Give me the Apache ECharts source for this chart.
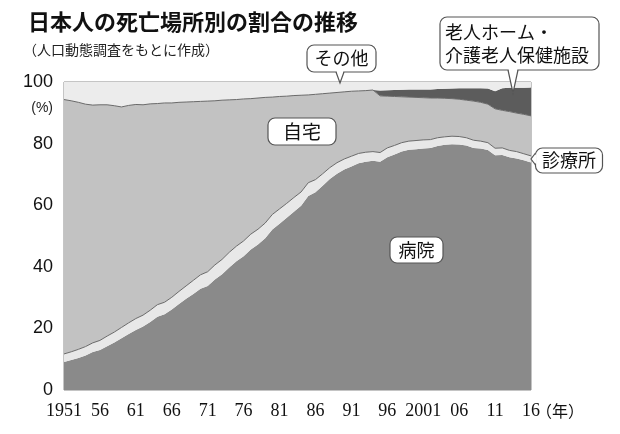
<!DOCTYPE html>
<html>
<head>
<meta charset="utf-8">
<script src="https://cdn.jsdelivr.net/npm/echarts@6/dist/echarts.min.js"></script>
<style>
  html, body { margin: 0; padding: 0; background: #fff; }
  #chart { width: 620px; height: 434px; }
</style>
</head>
<body>
<div id="chart"></div>
<script>
// 年（カテゴリ）
const years = [
  "1951", "1952", "1953", "1954", "1955", "1956", "1957", "1958", "1959", "1960",
  "1961", "1962", "1963", "1964", "1965", "1966", "1967", "1968", "1969", "1970",
  "1971", "1972", "1973", "1974", "1975", "1976", "1977", "1978", "1979", "1980",
  "1981", "1982", "1983", "1984", "1985", "1986", "1987", "1988", "1989", "1990",
  "1991", "1992", "1993", "1994", "1995", "1996", "1997", "1998", "1999", "2000",
  "2001", "2002", "2003", "2004", "2005", "2006", "2007", "2008", "2009", "2010",
  "2011", "2012", "2013", "2014", "2015", "2016",
];
// x軸の目盛ラベル（5年ごと）
const yearLabels = ["1951", "56", "61", "66", "71", "76", "81", "86", "91", "96", "2001", "06", "11", "16"];
const yTicks = [0, 20, 40, 60, 80, 100];

// 死亡場所別の割合（%）
const hospital = [
  9.1, 9.7, 10.4, 11.2, 12.3, 13.0, 14.2, 15.4, 16.8, 18.2,
  19.5, 20.6, 22.1, 23.8, 24.6, 26.1, 27.9, 29.6, 31.2, 32.9,
  33.8, 35.9, 37.6, 39.8, 41.8, 43.4, 45.6, 47.2, 49.3, 52.1,
  54.0, 55.9, 57.9, 59.8, 63.0, 64.2, 66.3, 68.5, 70.2, 71.6,
  72.6, 73.6, 74.1, 74.4, 74.1, 75.6, 76.5, 77.4, 78.0, 78.2,
  78.4, 78.6, 79.2, 79.6, 79.8, 79.7, 79.4, 78.6, 78.4, 77.9,
  76.2, 76.3, 75.6, 75.2, 74.6, 73.9,
];
const clinic = [
  2.6, 2.7, 2.8, 2.9, 3.0, 3.1, 3.3, 3.4, 3.5, 3.6,
  3.7, 3.7, 3.8, 3.9, 3.9, 4.0, 4.1, 4.2, 4.4, 4.5,
  4.6, 4.7, 4.8, 4.9, 4.9, 5.0, 5.0, 5.0, 4.9, 4.9,
  4.8, 4.7, 4.6, 4.5, 4.3, 4.1, 3.9, 3.7, 3.6, 3.4,
  3.3, 3.2, 3.1, 3.0, 3.0, 3.0, 2.9, 2.9, 2.8, 2.8,
  2.8, 2.7, 2.7, 2.6, 2.6, 2.6, 2.5, 2.5, 2.4, 2.4,
  2.3, 2.3, 2.2, 2.2, 2.1, 2.1,
];
const home = [
  82.6, 81.5, 80.2, 78.7, 77.2, 76.5, 75.1, 73.5, 71.6, 70.6,
  69.5, 68.3, 67.0, 65.3, 64.7, 63.1, 61.4, 59.7, 58.0, 56.3,
  55.4, 53.3, 51.7, 49.5, 47.6, 46.1, 44.0, 42.6, 40.8, 38.1,
  36.5, 34.8, 33.1, 31.4, 28.5, 27.7, 26.0, 24.2, 22.8, 21.8,
  21.1, 20.3, 20.0, 20.0, 18.4, 16.8, 15.9, 14.9, 14.3, 14.0,
  13.7, 13.5, 12.9, 12.5, 12.2, 12.1, 12.2, 12.7, 12.6, 12.5,
  12.8, 12.2, 12.6, 12.5, 12.8, 13.0,
];
const nursingHome = [
  0, 0, 0, 0, 0, 0, 0, 0, 0, 0,
  0, 0, 0, 0, 0, 0, 0, 0, 0, 0,
  0, 0, 0, 0, 0, 0, 0, 0, 0, 0,
  0, 0, 0, 0, 0, 0, 0, 0, 0, 0,
  0, 0, 0, 0, 1.7, 1.9, 2.1, 2.3, 2.5, 2.6,
  2.7, 2.8, 2.9, 3.1, 3.3, 3.6, 3.9, 4.2, 4.6, 5.1,
  5.7, 7.2, 7.7, 8.2, 8.6, 9.2,
];
const other = [
  5.7, 6.1, 6.6, 7.2, 7.5, 7.4, 7.4, 7.7, 8.1, 7.6,
  7.3, 7.4, 7.1, 7.0, 6.8, 6.8, 6.6, 6.5, 6.4, 6.3,
  6.2, 6.1, 5.9, 5.8, 5.7, 5.5, 5.4, 5.2, 5.0, 4.9,
  4.7, 4.6, 4.4, 4.3, 4.2, 4.0, 3.8, 3.6, 3.4, 3.2,
  3.0, 2.9, 2.8, 2.6, 2.8, 2.7, 2.6, 2.5, 2.4, 2.4,
  2.4, 2.4, 2.3, 2.2, 2.1, 2.0, 2.0, 2.0, 2.0, 2.1,
  3.0, 2.0, 1.9, 1.9, 1.9, 1.8,
];

const jpFont = '"Noto Sans CJK JP", sans-serif';
const edgeColor = "#555";

// 吹き出し（角丸の枠＋しっぽ）
function callout(box, lines, tail) {
  const els = [
    {
      type: "rect",
      z: 100,
      shape: { x: box.x, y: box.y, width: box.w, height: box.h, r: 7 },
      style: { fill: "#fff", stroke: edgeColor, lineWidth: 1.2 },
    },
  ];
  if (tail) {
    els.push({
      type: "polygon",
      z: 101,
      shape: { points: tail.fill },
      style: { fill: "#fff" },
    });
    els.push({
      type: "polyline",
      z: 102,
      shape: { points: tail.line },
      style: { stroke: edgeColor, fill: null, lineWidth: 1.2 },
    });
  }
  lines.forEach((ln) => {
    els.push({
      type: "text",
      z: 103,
      x: ln.x,
      y: ln.y,
      style: {
        text: ln.text,
        fill: "#111",
        font: `${ln.size || 18}px ${jpFont}`,
        align: ln.align || "center",
        verticalAlign: "middle",
      },
    });
  });
  return els;
}

function areaSeries(name, data, color, z, edge) {
  return {
    name,
    type: "line",
    stack: "total",
    data,
    z,
    symbol: "none",
    showSymbol: false,
    smooth: false,
    animation: false,
    lineStyle: edge ? { width: 1, color: "#6a6a6a" } : { width: 0, color },
    itemStyle: { color },
    areaStyle: { color, opacity: 1 },
  };
}

const chart = echarts.init(document.getElementById("chart"), null, { renderer: "canvas" });

const option = {
  backgroundColor: "#fff",
  animation: false,
  grid: {
    left: 64,
    right: 89,
    top: 82,
    bottom: 44,
    show: true,
    borderColor: "#8a8a8a",
    borderWidth: 1,
    backgroundColor: "transparent",
  },
  xAxis: {
    type: "category",
    data: years,
    boundaryGap: false,
    axisLine: { show: false },
    axisTick: { show: false },
    splitLine: { show: false },
    axisLabel: {
      interval: 4,
      margin: 12,
      color: "#111",
      fontSize: 18,
      fontFamily: '"Liberation Serif", serif',
      formatter: (value, index) => yearLabels[index / 5] || "",
    },
  },
  yAxis: {
    type: "value",
    min: yTicks[0],
    max: yTicks[yTicks.length - 1],
    interval: 20,
    axisLine: { show: false },
    axisTick: { show: false },
    splitLine: { show: false },
    axisLabel: {
      margin: 11,
      color: "#111",
      fontSize: 18,
      fontFamily: '"Liberation Sans", sans-serif',
    },
  },
  series: [
    areaSeries("病院", hospital, "#8a8a8a", 2, false),
    areaSeries("診療所", clinic, "#e8e8e8", 5, true),
    areaSeries("自宅", home, "#c2c2c2", 4, true),
    areaSeries("老人ホーム・介護老人保健施設", nursingHome, "#5c5c5c", 2, false),
    areaSeries("その他", other, "#ececec", 2, false),
  ],
  graphic: [
    {
      type: "text",
      x: 28,
      y: 22,
      style: {
        text: "日本人の死亡場所別の割合の推移",
        fill: "#111",
        font: `bold 22px ${jpFont}`,
        verticalAlign: "middle",
      },
    },
    {
      type: "text",
      x: 23,
      y: 50,
      style: {
        text: "（人口動態調査をもとに作成）",
        fill: "#222",
        font: `14px ${jpFont}`,
        verticalAlign: "middle",
      },
    },
    {
      type: "text",
      x: 53,
      y: 108,
      style: {
        text: "(%)",
        fill: "#222",
        font: '14px "Liberation Sans", sans-serif',
        align: "right",
        verticalAlign: "middle",
      },
    },
    {
      type: "text",
      x: 536,
      y: 411,
      style: {
        text: "（年）",
        fill: "#111",
        font: `16px ${jpFont}`,
        verticalAlign: "middle",
      },
    },
    ...callout({ x: 307, y: 45, w: 69, h: 27 }, [{ text: "その他", x: 341.5, y: 58.5 }], {
      fill: [[336.5, 71], [340, 83], [343.5, 71]],
      line: [[336, 72], [340, 83], [344, 72]],
    }),
    ...callout(
      { x: 440, y: 17, w: 159, h: 53 },
      [
        { text: "老人ホーム・", x: 445, y: 32, align: "left" },
        { text: "介護老人保健施設", x: 445, y: 55, align: "left" },
      ],
      {
        fill: [[508.5, 69], [513, 93], [517.5, 69]],
        line: [[508, 70], [513, 93], [518, 70]],
      }
    ),
    ...callout({ x: 268, y: 118, w: 68, h: 27 }, [{ text: "自宅", x: 302, y: 131.5, size: 19 }]),
    ...callout({ x: 535.5, y: 148, w: 67, h: 25 }, [{ text: "診療所", x: 569, y: 160.5 }], {
      fill: [[536.5, 153.5], [531, 159], [536.5, 164.5]],
      line: [[535.5, 153], [531, 159], [535.5, 165]],
    }),
    ...callout({ x: 390, y: 237, w: 53, h: 26 }, [{ text: "病院", x: 416.5, y: 250 }]),
  ],
};

chart.setOption(option);
</script>
</body>
</html>
